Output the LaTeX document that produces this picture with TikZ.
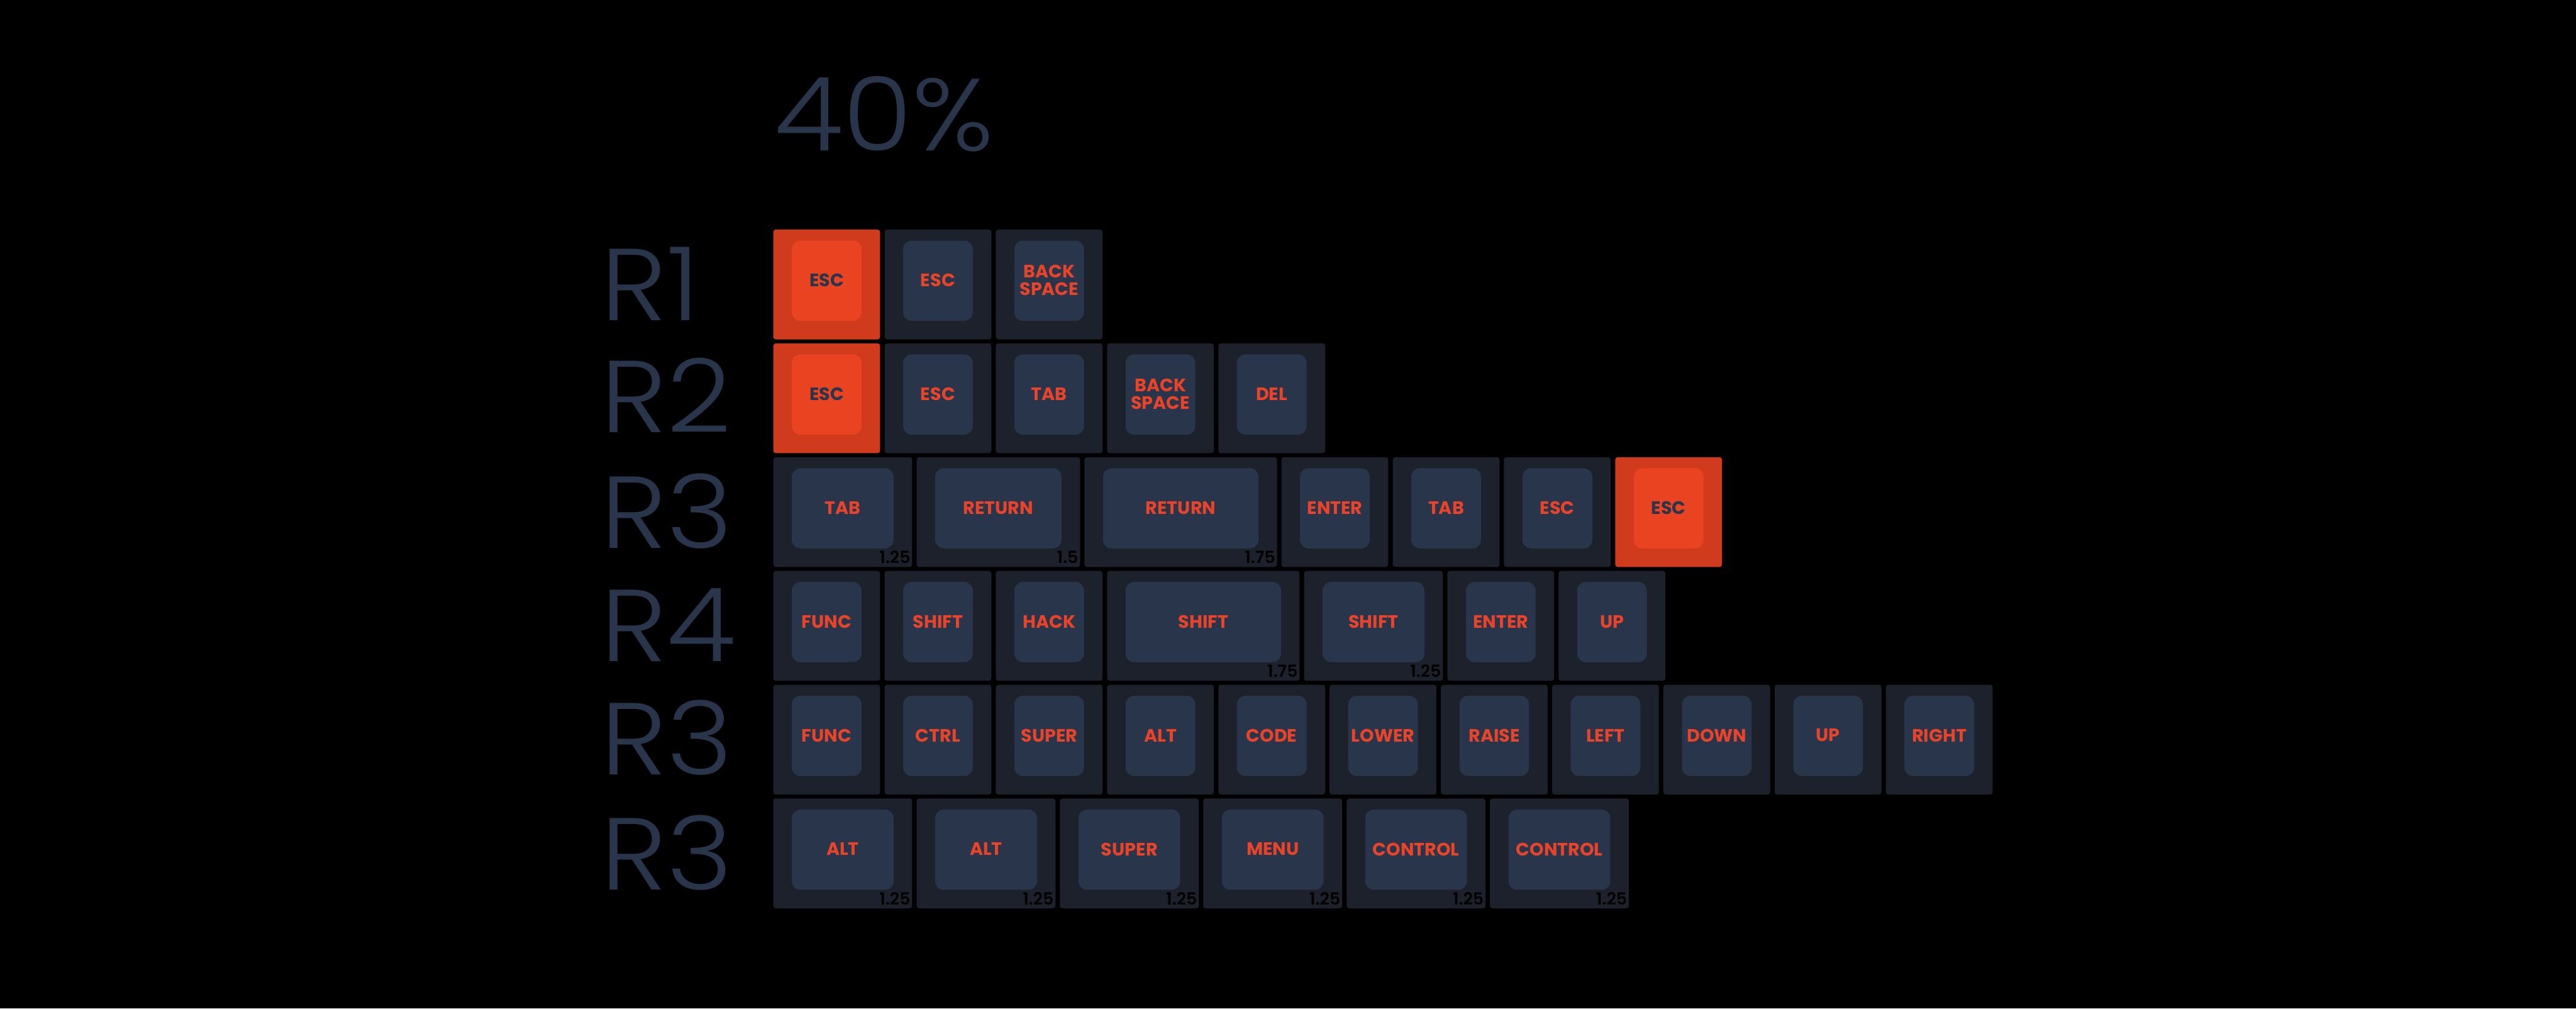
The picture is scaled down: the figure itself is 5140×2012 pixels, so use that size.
\documentclass[tikz,border=0pt]{standalone}
\usepackage{fontspec}
\newfontfamily\capfont{Poppins Bold}
\newfontfamily\sizefont{Poppins SemiBold}
\newfontfamily\thinfont{Poppins Light}
\definecolor{capbase}{HTML}{1C212C}
\definecolor{captop}{HTML}{29354A}
\definecolor{hotbase}{HTML}{D03B1E}
\definecolor{hottop}{HTML}{E94322}
\definecolor{legend}{HTML}{E9442A}
\definecolor{slate}{HTML}{29354A}

% one key: [colours]{name}{x}{y}{width}{legend}
\newcommand{\keycap}[6][dark]{%
  \fill[#1 base] (#3,#4) rectangle ++(#5,219);
  \fill[#1 top] (#3,#4) ++(37,22) rectangle ++(#5-74,160);
  \path (#3,#4) ++(#5/2,101) node[#1 legend] (#2) {#6};
}
% width mark, lower right corner of a key
\newcommand{\keysize}[5]{%
  \path (#2,#3) ++(#4-3,212) node[size mark] (#1) {#5};
}

\begin{document}
\begin{tikzpicture}[x=0.01cm,y=-0.01cm,
  dark base/.style={fill=capbase,rounded corners=1.4pt},
  dark top/.style={fill=captop,rounded corners=4.8pt},
  dark legend/.style={text=legend,align=center,inner sep=0pt,font=\capfont\fontsize{10.2}{10}\selectfont},
  hot base/.style={fill=hotbase,rounded corners=1.4pt},
  hot top/.style={fill=hottop,rounded corners=4.8pt},
  hot legend/.style={text=slate,align=center,inner sep=0pt,font=\capfont\fontsize{10.2}{10}\selectfont},
  size mark/.style={anchor=base east,inner sep=0pt,text=black,font=\sizefont\fontsize{9.5}{10}\selectfont},
  row label/.style={anchor=base west,inner sep=0pt,xscale=1.1,text=slate,font=\thinfont\fontsize{58}{58}\selectfont}]
  \fill[black] (0,0) rectangle (5140,2012);
  \node[row label] (title) at (1544,300) {40\%};
  % row labels
  \node[row label] (lab1) at (1198,639) {R1};
  \node[row label] (lab2) at (1198,863) {R2};
  \node[row label] (lab3) at (1198,1094) {R3};
  \node[row label] (lab4) at (1198,1319) {R4};
  \node[row label] (lab5) at (1198,1545) {R3};
  \node[row label] (lab6) at (1198,1775) {R3};
  % R1
  \keycap[hot]{r1k1}{1543}{458}{213}{ESC}
  \keycap{r1k2}{1765}{458}{213}{ESC}
  \keycap{r1k3}{1987}{458}{213}{BACK\\SPACE}
  % R2
  \keycap[hot]{r2k1}{1543}{685}{213}{ESC}
  \keycap{r2k2}{1765}{685}{213}{ESC}
  \keycap{r2k3}{1987}{685}{213}{TAB}
  \keycap{r2k4}{2209}{685}{213}{BACK\\SPACE}
  \keycap{r2k5}{2431}{685}{213}{DEL}
  % R3
  \keycap{r3k1}{1543}{912}{277}{TAB}
  \keysize{r3w1}{1543}{912}{277}{1.25}
  \keycap{r3k2}{1829}{912}{326}{RETURN}
  \keysize{r3w2}{1829}{912}{326}{1.5}
  \keycap{r3k3}{2164}{912}{384}{RETURN}
  \keysize{r3w3}{2164}{912}{384}{1.75}
  \keycap{r3k4}{2557}{912}{213}{ENTER}
  \keycap{r3k5}{2779}{912}{213}{TAB}
  \keycap{r3k6}{3001}{912}{213}{ESC}
  \keycap[hot]{r3k7}{3223}{912}{213}{ESC}
  % R4
  \keycap{r4k1}{1543}{1139}{213}{FUNC}
  \keycap{r4k2}{1765}{1139}{213}{SHIFT}
  \keycap{r4k3}{1987}{1139}{213}{HACK}
  \keycap{r4k4}{2209}{1139}{384}{SHIFT}
  \keysize{r4w4}{2209}{1139}{384}{1.75}
  \keycap{r4k5}{2602}{1139}{277}{SHIFT}
  \keysize{r4w5}{2602}{1139}{277}{1.25}
  \keycap{r4k6}{2888}{1139}{213}{ENTER}
  \keycap{r4k7}{3110}{1139}{213}{UP}
  % R5
  \keycap{r5k1}{1543}{1366}{213}{FUNC}
  \keycap{r5k2}{1765}{1366}{213}{CTRL}
  \keycap{r5k3}{1987}{1366}{213}{SUPER}
  \keycap{r5k4}{2209}{1366}{213}{ALT}
  \keycap{r5k5}{2431}{1366}{213}{CODE}
  \keycap{r5k6}{2653}{1366}{213}{LOWER}
  \keycap{r5k7}{2875}{1366}{213}{RAISE}
  \keycap{r5k8}{3097}{1366}{213}{LEFT}
  \keycap{r5k9}{3319}{1366}{213}{DOWN}
  \keycap{r5k10}{3541}{1366}{213}{UP}
  \keycap{r5k11}{3763}{1366}{213}{RIGHT}
  % R6
  \keycap{r6k1}{1543}{1593}{277}{ALT}
  \keysize{r6w1}{1543}{1593}{277}{1.25}
  \keycap{r6k2}{1829}{1593}{277}{ALT}
  \keysize{r6w2}{1829}{1593}{277}{1.25}
  \keycap{r6k3}{2115}{1593}{277}{SUPER}
  \keysize{r6w3}{2115}{1593}{277}{1.25}
  \keycap{r6k4}{2401}{1593}{277}{MENU}
  \keysize{r6w4}{2401}{1593}{277}{1.25}
  \keycap{r6k5}{2687}{1593}{277}{CONTROL}
  \keysize{r6w5}{2687}{1593}{277}{1.25}
  \keycap{r6k6}{2973}{1593}{277}{CONTROL}
  \keysize{r6w6}{2973}{1593}{277}{1.25}
\end{tikzpicture}
\end{document}
